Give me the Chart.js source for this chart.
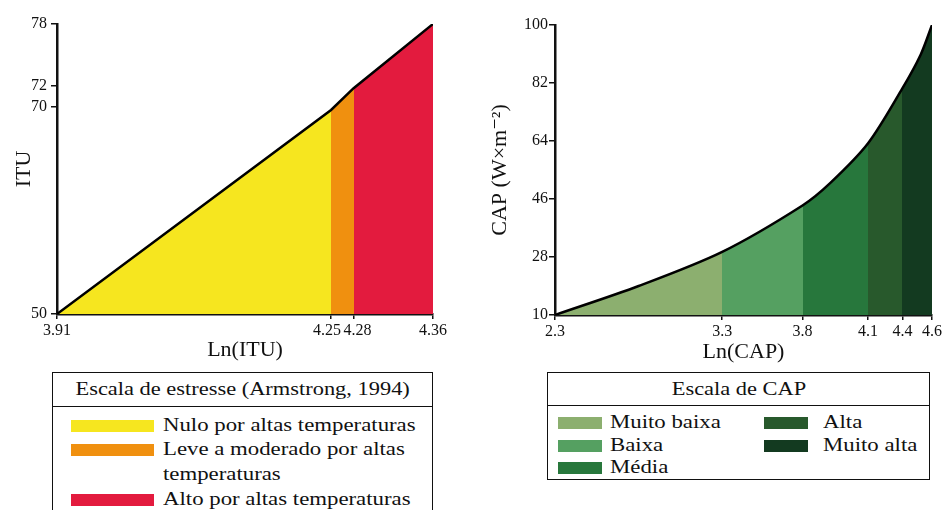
<!DOCTYPE html>
<html>
<head>
<meta charset="utf-8">
<script src="https://cdn.jsdelivr.net/npm/chart.js@4.4.1/dist/chart.umd.min.js"></script>
<style>
  body { margin: 0; width: 944px; height: 510px; overflow: hidden; background: #fff; font-family: "Liberation Serif", serif; color: #111; }
  .wrap { position: absolute; top: 0; height: 365px; }
  .box { position: absolute; border: 1.5px solid #111; box-sizing: border-box; background: #fff; }
  .head { position: absolute; left: 0; right: 0; top: 0; border-bottom: 1.5px solid #111; text-align: center; }
  .head span { display: inline-block; font-size: 19px; transform: scaleX(1.18); line-height: 31px; white-space: nowrap; }
  .sw { position: absolute; height: 12px; }
  .t { position: absolute; font-size: 19px; line-height: 22px; white-space: nowrap; transform: scaleX(1.2); transform-origin: left center; }
</style>
</head>
<body>
<div class="wrap" style="left:0;width:470px"><canvas id="ituChart"></canvas></div>
<div class="wrap" style="left:470px;width:474px"><canvas id="capChart"></canvas></div>

<div class="box" id="ituLegend" style="left:52px;top:372px;width:381px;height:150px">
  <div class="head" style="height:33px"><span>Escala de estresse (Armstrong, 1994)</span></div>
</div>
<div class="box" id="capLegend" style="left:547px;top:372px;width:383px;height:108px">
  <div class="head" style="height:32px"><span>Escala de CAP</span></div>
</div>

<script>
// ITU chart data
const ituX = [3.91, 4.238, 4.265, 4.36];
const ituY = [50, 69.7, 71.8, 78];
const ituTickX = [3.91, 4.238, 4.265, 4.36];
const ituTickXLabels = ['3.91', '4.25\u2002', '\u20024.28', '4.36'];
const ituTickY = [50, 70, 72, 78];
const ituEdges = [4.238, 4.265];
const ituColors = ['#f6e61f', '#f0900f', '#e31b3e'];
const ituZones = ['Nulo por altas temperaturas', 'Leve a moderado por altas|temperaturas', 'Alto por altas temperaturas'];

// CAP chart data
const capX = [2.3, 2.81, 3.32, 3.81, 3.98, 4.21, 4.42, 4.53, 4.6];
const capY = [10, 19, 29.6, 44, 51, 63.3, 80.4, 90.7, 100];
const capTickX = [2.3, 3.32, 3.81, 4.21, 4.42, 4.6];
const capTickXLabels = ['2.3', '3.3', '3.8', '4.1', '4.4', '4.6'];
const capTickY = [10, 28, 46, 64, 82, 100];
const capEdges = [3.32, 3.81, 4.21, 4.42];
const capColors = ['#8caf6f', '#55a061', '#27773c', '#28592c', '#133a20'];
const capZones = ['Muito baixa', 'Baixa', 'Média', 'Alta', 'Muito alta'];

Chart.defaults.font.family = '"Liberation Serif", "DejaVu Serif", serif';
Chart.defaults.color = '#111';

// horizontal gradient with hard stops = colored zones under the curve
function zoneFill(edges, colors) {
  return (ctx) => {
    const chart = ctx.chart;
    const area = chart.chartArea;
    if (!area) return colors[0];
    const xs = chart.scales.x;
    const w = area.right - area.left;
    const g = chart.ctx.createLinearGradient(area.left, 0, area.right, 0);
    let prev = 0;
    colors.forEach((c, i) => {
      let end = i < edges.length ? (xs.getPixelForValue(edges[i]) - area.left) / w : 1;
      end = Math.min(1, Math.max(prev, end));
      g.addColorStop(prev, c);
      g.addColorStop(end, c);
      prev = end;
    });
    return g;
  };
}

function makeChart(id, o) {
  const pts = o.x.map((v, i) => ({ x: v, y: o.y[i] }));
  return new Chart(document.getElementById(id), {
    type: 'line',
    data: {
      datasets: [{
        data: pts,
        borderColor: '#000',
        borderWidth: 2.5,
        pointRadius: 0,
        tension: o.tension,
        fill: 'start',
        backgroundColor: zoneFill(o.edges, o.colors)
      }]
    },
    options: {
      responsive: true,
      maintainAspectRatio: false,
      animation: false,
      layout: { padding: o.pad },
      plugins: { legend: { display: false }, tooltip: { enabled: false } },
      scales: {
        x: {
          type: 'linear',
          min: o.x[0], max: o.x[o.x.length - 1],
          border: { color: '#111', width: 2.5 },
          grid: { drawOnChartArea: false, color: '#111', tickLength: 5, lineWidth: 1.5 },
          afterBuildTicks: (s) => { s.ticks = o.tickX.map(v => ({ value: v })); },
          afterFit: (s) => { s.height = o.xh; },
          ticks: { autoSkip: false, maxRotation: 0, minRotation: 0, padding: 2,
                   font: { size: 16 }, callback: (v, i) => o.tickXLabels[i] },
          title: { display: true, text: o.xTitle, font: { size: 22 }, padding: { top: 0, bottom: o.xtb } }
        },
        y: {
          type: 'linear',
          min: o.tickY[0], max: o.tickY[o.tickY.length - 1],
          border: { color: '#111', width: 2.5 },
          grid: { drawOnChartArea: false, color: '#111', tickLength: 6, lineWidth: 1.5 },
          afterBuildTicks: (s) => { s.ticks = o.tickY.map(v => ({ value: v })); },
          afterFit: (s) => { s.width = o.yw; },
          ticks: { autoSkip: false, padding: o.ytp, font: { size: 16 } },
          title: { display: true, text: o.yTitle, font: { size: 22 }, padding: { top: o.ytt, bottom: 0 } }
        }
      }
    }
  });
}

makeChart('ituChart', {
  x: ituX, y: ituY, tickX: ituTickX, tickXLabels: ituTickXLabels, tickY: ituTickY,
  edges: ituEdges, colors: ituColors, tension: 0,
  xTitle: 'Ln(ITU)', yTitle: 'ITU',
  pad: { left: 0, right: 37, top: 24, bottom: 0 }, xh: 51, yw: 57, xtb: 2, ytp: 4, ytt: 11
});

makeChart('capChart', {
  x: capX, y: capY, tickX: capTickX, tickXLabels: capTickXLabels, tickY: capTickY,
  edges: capEdges, colors: capColors, tension: 0.3,
  xTitle: 'Ln(CAP)', yTitle: 'CAP (W×m\u207B\u00B2)',
  pad: { left: 0, right: 12, top: 25, bottom: 0 }, xh: 50, yw: 85, xtb: 0, ytp: 1, ytt: 17
});

// HTML legends
function addEntry(box, color, text, sx, sw, tx, cy) {
  const s = document.createElement('div');
  s.className = 'sw';
  s.style.cssText = `left:${sx}px;width:${sw}px;top:${cy - 6}px;background:${color}`;
  box.appendChild(s);
  text.split('|').forEach((line, k) => {
    const t = document.createElement('div');
    t.className = 't';
    t.textContent = line;
    t.style.left = tx + 'px';
    t.style.top = (cy - 12 + k * 25) + 'px';
    box.appendChild(t);
  });
}

const ituBox = document.getElementById('ituLegend');
const ituRows = [53, 77, 127];
ituZones.forEach((z, i) => addEntry(ituBox, ituColors[i], z, 18, 83, 110, ituRows[i]));

const capBox = document.getElementById('capLegend');
const capRows = [50, 73, 95, 50, 73];
capZones.forEach((z, i) => {
  const col2 = i >= 3;
  addEntry(capBox, capColors[i], z, col2 ? 216 : 10, 44, col2 ? 275 : 62, capRows[i]);
});
</script>
</body>
</html>
